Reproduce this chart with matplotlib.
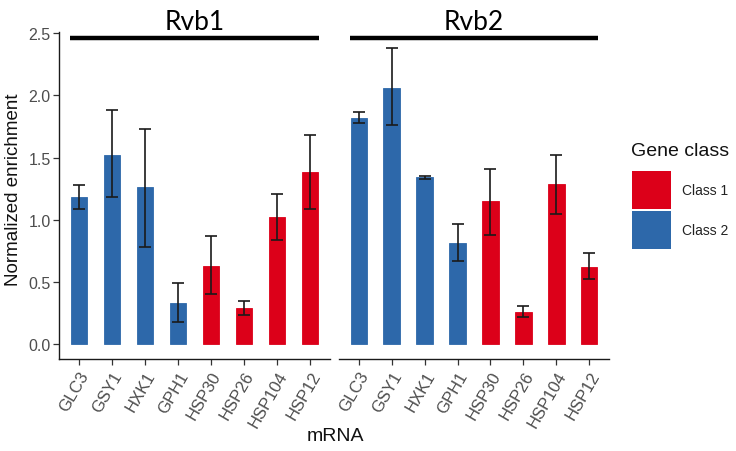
import matplotlib
matplotlib.use("Agg")
import matplotlib.pyplot as plt
from matplotlib import font_manager as fm
from matplotlib.patches import Rectangle
from matplotlib.transforms import blended_transform_factory
import numpy as np

_reg = [f for f in fm.findSystemFonts() if f.endswith("LiberationSans-Regular.ttf")]
if _reg:
    fm.fontManager.addfont(_reg[0])
    _name = fm.FontProperties(fname=_reg[0]).get_name()
else:
    _name = "DejaVu Sans"
plt.rcParams["font.family"] = [_name, "DejaVu Sans"]

genes = ["GLC3", "GSY1", "HXK1", "GPH1", "HSP30", "HSP26", "HSP104", "HSP12"]
gene_class = ["Class 2", "Class 2", "Class 2", "Class 2", "Class 1", "Class 1", "Class 1", "Class 1"]
panels = ["Rvb1", "Rvb2"]

rvb1_mean = [1.18, 1.52, 1.26, 0.33, 0.63, 0.29, 1.02, 1.38]
rvb1_low = [1.09, 1.18, 0.78, 0.18, 0.40, 0.23, 0.84, 1.09]
rvb1_high = [1.28, 1.88, 1.73, 0.49, 0.87, 0.345, 1.21, 1.68]

rvb2_mean = [1.82, 2.06, 1.34, 0.81, 1.15, 0.26, 1.29, 0.62]
rvb2_low = [1.78, 1.76, 1.33, 0.665, 0.88, 0.22, 1.05, 0.52]
rvb2_high = [1.87, 2.38, 1.35, 0.965, 1.41, 0.31, 1.52, 0.73]

class_colors = {"Class 1": "#DC0019", "Class 2": "#2D68AA"}
yticks = [0.0, 0.5, 1.0, 1.5, 2.0, 2.5]

W, H = 736, 452
fig = plt.figure(figsize=(W / 100, H / 100), dpi=100)

def fx(px):
    return px / W

def fy(py):
    return 1 - py / H

top_px, bot_px = 33, 360
panel_px = [(59, 330), (339, 609)]
data = [(rvb1_mean, rvb1_low, rvb1_high), (rvb2_mean, rvb2_low, rvb2_high)]
tick_gray = "#4D4D4D"

for i, (name, (x0, x1), (m, lo, hi)) in enumerate(zip(panels, panel_px, data)):
    ax = fig.add_axes([fx(x0), fy(bot_px), fx(x1 - x0), (bot_px - top_px) / H])
    x = np.arange(len(genes))
    cols = [class_colors[c] for c in gene_class]
    ax.bar(x, m, width=0.5, color=cols, edgecolor=cols, linewidth=0.6, zorder=2)
    m_arr = np.array(m)
    yerr = np.vstack([m_arr - np.array(lo), np.array(hi) - m_arr])
    ax.errorbar(x, m, yerr=yerr, fmt="none", ecolor="#1a1a1a", elinewidth=1.2,
                capsize=4, capthick=1.2, zorder=3)
    ax.set_xlim(-0.6, len(genes) - 0.4)
    ax.set_ylim(-0.12, 2.51)
    ax.set_xticks(x)
    ax.set_xticklabels(genes, rotation=60, ha="right", rotation_mode="anchor",
                       fontsize=12, color=tick_gray)
    ax.tick_params(axis="x", length=4, color="#333333", width=0.9, pad=3)
    for s in ["top", "right"]:
        ax.spines[s].set_visible(False)
    ax.spines["bottom"].set_color("#1a1a1a")
    ax.spines["bottom"].set_linewidth(1.0)
    if i == 0:
        ax.set_yticks(yticks)
        ax.set_yticklabels([f"{v:.1f}" for v in yticks], fontsize=11.5, color=tick_gray)
        ax.tick_params(axis="y", length=4, color="#333333", width=0.9, pad=2)
        ax.spines["left"].set_color("#1a1a1a")
        ax.spines["left"].set_linewidth(1.0)
        ax.set_ylabel("Normalized enrichment", fontsize=13.5, color="#111111")
        ax.yaxis.set_label_coords(-0.135, 0.52)
    else:
        ax.spines["left"].set_visible(False)
        ax.set_yticks([])
    trans = blended_transform_factory(ax.transData, ax.transAxes)
    ax.plot([-0.28, 7.27], [(bot_px - 39) / (bot_px - top_px)] * 2, color="black",
            linewidth=3.2, transform=trans, clip_on=False, solid_capstyle="butt", zorder=4)
    fig.text(fx((x0 + x1) / 2), fy(22), name, ha="center", va="center",
             fontsize=19, family="Lato", color="black")

fig.text(fx(335), fy(437), "mRNA", ha="center", va="center", fontsize=14, color="#111111")

# legend
fig.text(fx(631), fy(152), "Gene class", ha="left", va="center", fontsize=14, color="#111111")
for j, (cls, y0) in enumerate([("Class 1", 172), ("Class 2", 212)]):
    fig.add_artist(Rectangle((fx(632), fy(y0 + 38)), fx(39), 38 / H,
                             facecolor=class_colors[cls], edgecolor="none",
                             transform=fig.transFigure))
    fig.text(fx(682), fy(y0 + 19), cls, ha="left", va="center", fontsize=10, color="#222222")

fig.savefig("out.png", dpi=100)
